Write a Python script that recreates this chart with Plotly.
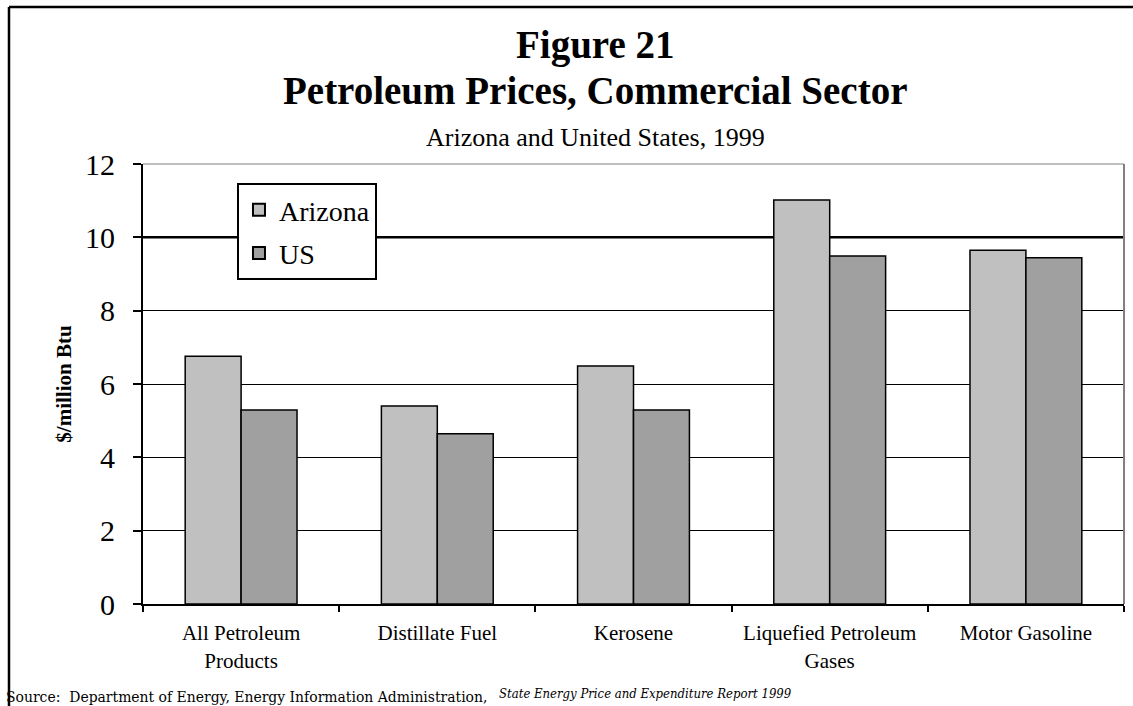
import plotly.graph_objects as go

categories = ["All Petroleum<br>Products", "Distillate Fuel", "Kerosene",
              "Liquefied Petroleum<br>Gases", "Motor Gasoline"]
arizona = [6.76, 5.40, 6.49, 11.02, 9.65]
us = [5.29, 4.64, 5.29, 9.49, 9.44]
y_ticks = [0, 2, 4, 6, 8, 10, 12]

SERIF = "Liberation Serif"

fig = go.Figure()
fig.add_trace(go.Bar(name="Arizona", x=categories, y=arizona, legendgroup="a",
                     marker=dict(color="#C0C0C0", line=dict(color="black", width=1.5))))
fig.add_trace(go.Bar(name="US", x=categories, y=us, legendgroup="b",
                     marker=dict(color="#A0A0A0", line=dict(color="black", width=1.5))))

fig.update_layout(
    width=1133, height=706,
    margin=dict(l=143, r=9, t=164, b=102),
    paper_bgcolor="white", plot_bgcolor="white",
    barmode="group", bargap=0.43, bargroupgap=0,
    font=dict(family=SERIF, color="black"),
    showlegend=True,
    legend=dict(x=0.0958, y=0.9568, xanchor="left", yanchor="top",
                bgcolor="white", bordercolor="black", borderwidth=2,
                font=dict(size=28, family=SERIF, color="black"), itemsizing="constant",
                traceorder="grouped", tracegroupgap=4, itemwidth=30),
    xaxis=dict(showline=True, linecolor="black", linewidth=2, automargin=False,
               ticks="outside", tickson="boundaries", ticklen=6,
               tickcolor="black", tickwidth=2, ticklabelstandoff=9,
               tickfont=dict(size=21, family=SERIF, color="black"), showgrid=False),
    yaxis=dict(range=[0, 12], tickvals=y_ticks, showline=True, linecolor="black",
               linewidth=2, ticks="outside", ticklen=8, tickcolor="black",
               tickwidth=2, tickfont=dict(size=30, family=SERIF, color="black"),
               ticklabelstandoff=12,
               automargin=False,
               showgrid=True, gridcolor="black", gridwidth=1, zeroline=False,
               title=dict(text="<b>$/million Btu</b>",
                          font=dict(size=21, family=SERIF, color="black"),
                          standoff=8)),
)

# thicker 10 gridline
fig.add_shape(type="line", xref="paper", yref="y", x0=0, x1=1, y0=10, y1=10,
              line=dict(color="black", width=2.5), layer="below")
# gray right/top border of plot area
fig.add_shape(type="line", xref="paper", yref="paper", x0=1, x1=1, y0=0, y1=1,
              line=dict(color="#808080", width=2))
fig.add_shape(type="line", xref="paper", yref="paper", x0=0, x1=1, y0=1, y1=1,
              line=dict(color="#808080", width=1))
# outer frame (left & top)
fig.add_shape(type="line", xref="paper", yref="paper", x0=-0.1366, x1=-0.1366,
              y0=1.3568, y1=-0.24, line=dict(color="black", width=2.5))
fig.add_shape(type="line", xref="paper", yref="paper", x0=-0.1366, x1=1.02,
              y0=1.3568, y1=1.3568, line=dict(color="black", width=2.5))

TX = (595 - 143) / 981
fig.add_annotation(text="<b>Figure 21</b>", xref="paper", yref="paper",
                   x=TX, y=(604 - 45) / 440, xanchor="center", yanchor="middle",
                   showarrow=False, font=dict(size=39, family=SERIF))
fig.add_annotation(text="<b>Petroleum Prices, Commercial Sector</b>", xref="paper", yref="paper",
                   x=TX, y=(604 - 91) / 440, xanchor="center", yanchor="middle",
                   showarrow=False, font=dict(size=39, family=SERIF))
fig.add_annotation(text="Arizona and United States, 1999", xref="paper", yref="paper",
                   x=TX, y=(604 - 137) / 440, xanchor="center", yanchor="middle",
                   showarrow=False, font=dict(size=26, family=SERIF))
fig.add_annotation(text="Source:  Department of Energy, Energy Information Administration,",
                   xref="paper", yref="paper",
                   x=(4 - 143) / 981, y=(604 - 697) / 440, xanchor="left", yanchor="middle",
                   showarrow=False, font=dict(size=15.5, family="DejaVu Serif Condensed"))
fig.add_annotation(text="<i>State Energy Price and Expenditure Report 1999</i>",
                   xref="paper", yref="paper",
                   x=(497 - 143) / 981, y=(604 - 693) / 440, xanchor="left", yanchor="middle",
                   showarrow=False, font=dict(size=13, family="DejaVu Serif Condensed"))

fig.write_html("out.html", config={"displayModeBar": False},
               post_script="document.body.style.margin='0';document.body.style.overflow='hidden';")
